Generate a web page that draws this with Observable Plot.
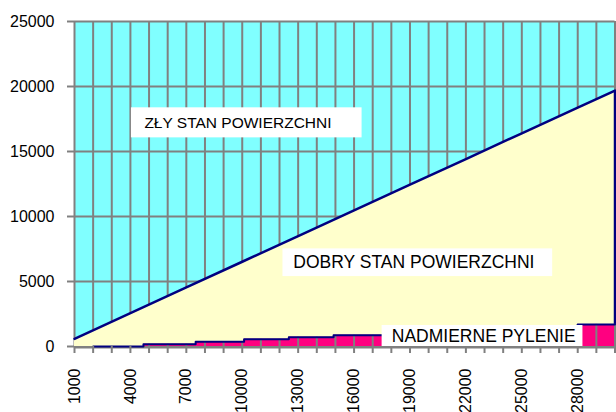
<!DOCTYPE html>
<html><head><meta charset="utf-8">
<script src="https://cdn.jsdelivr.net/npm/d3@7"></script>
<script src="https://cdn.jsdelivr.net/npm/@observablehq/plot@0.6"></script>
<style>body{margin:0;background:#fff;} svg{display:block}</style>
</head><body>
<div id="chart"></div>
<script>
// Upper boundary of "DOBRY STAN" (cumulative), read at labelled categories
const totalX = [1000, 4000, 7000, 10000, 13000, 16000, 19000, 22000, 25000, 28000, 30000];
const totalY = [590, 2570, 4540, 6520, 8490, 10470, 12450, 14420, 16400, 18370, 19690];
// "NADMIERNE PYLENIE" step levels
const pinkX = [2000, 4700, 7500, 10100, 12500, 14900, 28000, 30000];
const pinkY = [0, 170, 370, 550, 710, 860, 1700, 1700];
// ticks
const xTickValues = d3.range(1000, 30001, 1000);
const xTickLabels = [1000, 4000, 7000, 10000, 13000, 16000, 19000, 22000, 25000, 28000];
const yTickValues = [0, 5000, 10000, 15000, 20000, 25000];
// annotation labels
const labelText = ["ZŁY STAN POWIERZCHNI", "DOBRY STAN POWIERZCHNI", "NADMIERNE PYLENIE"];
const labelBoxX1 = [4055, 12185, 17505];
const labelBoxX2 = [16430, 26655, 28280];
const labelBoxY1 = [16050, 5380, 0];
const labelBoxY2 = [18360, 7510, 1615];
const labelTextX = [4750, 12740, 18025];
const labelTextY = [17200, 6460, 740];
const labelSize = [15.5, 17.5, 17.5];

const total = totalX.map((x, i) => ({x, y: totalY[i]}));
const pink = pinkX.map((x, i) => ({x, y: pinkY[i]}));
const pinkAt = v => { let r = 0; for (let i = 0; i < pinkX.length; i++) if (pinkX[i] <= v) r = pinkY[i]; return r; };
const boxes = labelText.map((t, i) => ({t, x1: labelBoxX1[i], x2: labelBoxX2[i], y1: labelBoxY1[i], y2: labelBoxY2[i], tx: labelTextX[i], ty: labelTextY[i], fs: labelSize[i]}));

const GRID = "#808080", NAVY = "#000080";
const chart = Plot.plot({
  width: 616, height: 412,
  marginLeft: 74, marginRight: 1.5, marginTop: 21, marginBottom: 66,
  style: {fontFamily: "'Liberation Sans', Arial, sans-serif", background: "#fff"},
  x: {type: "linear", domain: [1000, 30000], axis: null},
  y: {domain: [0, 25000], axis: null},
  marks: [
    Plot.frame({fill: "#80FFFF", stroke: "none"}),
    Plot.ruleX(xTickValues, {x: d => d, y1: 0, y2: 25000, stroke: GRID, strokeWidth: 2}),
    Plot.ruleY(yTickValues, {y: d => d, stroke: GRID, strokeWidth: 2}),
    Plot.areaY(total, {x: "x", y: "y", fill: "#FFFFCC"}),
    Plot.areaY(pink, {x: "x", y: "y", curve: "step-after", fill: "#FF0080"}),
    Plot.ruleX(xTickValues, {x: d => d, y1: 0, y2: d => pinkAt(d), stroke: GRID, strokeWidth: 2}),
    Plot.ruleY([0], {stroke: GRID, strokeWidth: 2, dy: 1}),
    Plot.lineY(pink, {x: "x", y: "y", curve: "step-after", stroke: NAVY, strokeWidth: 2}),
    Plot.lineY(total, {x: "x", y: "y", stroke: NAVY, strokeWidth: 2.5}),
    Plot.ruleX([30000], {x: d => d, y1: pinkY[pinkY.length - 1], y2: totalY[totalY.length - 1], stroke: NAVY, strokeWidth: 2.5}),
    Plot.rect(boxes, {x1: "x1", x2: "x2", y1: "y1", y2: "y2", fill: "#fff"}),
    Plot.text(boxes, {x: "tx", y: "ty", text: "t", fontSize: "fs", textAnchor: "start", fill: "#000"}),
    Plot.axisX(xTickValues, {tickSize: 7, tickFormat: () => "", stroke: GRID, strokeWidth: 2, label: null}),
    Plot.axisX(xTickLabels, {tickSize: 0, tickPadding: 22, tickRotate: -90, tickFormat: d => String(d), fontSize: 16, fill: "#000", label: null}),
    Plot.axisY(yTickValues, {tickSize: 7, tickPadding: 13, tickFormat: d => String(d), stroke: GRID, strokeWidth: 2, fontSize: 16, fill: "#000", label: null})
  ]
});
document.getElementById("chart").appendChild(chart);
</script>
</body></html>
